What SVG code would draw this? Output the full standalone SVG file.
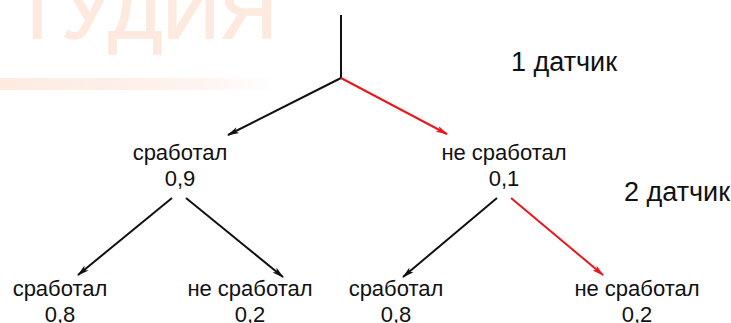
<svg xmlns="http://www.w3.org/2000/svg" width="731" height="323" viewBox="0 0 731 323">
<style>
text{font-family:"Liberation Sans",Arial,sans-serif;font-size:22px;fill:#111;text-anchor:middle}
.big{font-size:27px}
.wm{font-size:80px;fill:#fde9dd;text-anchor:start;stroke:#fde9dd;stroke-width:1.5}
.k{stroke:#111;stroke-width:2;fill:none}
.r{stroke:#e8181c;stroke-width:2;fill:none}
</style>
<defs>
<linearGradient id="fade" x1="0" y1="0" x2="1" y2="0"><stop offset="0" stop-color="#fdebe0"/><stop offset="0.7" stop-color="#fef3ee"/><stop offset="1" stop-color="#ffffff"/></linearGradient>
<marker id="ak" markerWidth="12" markerHeight="8" refX="11" refY="4" orient="auto" markerUnits="userSpaceOnUse"><path d="M0,0.8 L12,4 L0,7.2 L3,4 Z" fill="#111"/></marker>
<marker id="ar" markerWidth="12" markerHeight="8" refX="11" refY="4" orient="auto" markerUnits="userSpaceOnUse"><path d="M0,0.8 L12,4 L0,7.2 L3,4 Z" fill="#e8181c"/></marker>
</defs>
<g id="watermark">
<text class="wm" x="13" y="38" textLength="264" lengthAdjust="spacingAndGlyphs">ТУДИЯ</text>
<rect x="0" y="78" width="275" height="12" fill="url(#fade)"/>
</g>
<g id="connectors">
<line class="k" x1="341" y1="15" x2="341" y2="78"/>
<line class="k" x1="341" y1="78" x2="228" y2="135" marker-end="url(#ak)"/>
<line class="r" x1="341" y1="78" x2="447" y2="134" marker-end="url(#ar)"/>
<line class="k" x1="172" y1="198" x2="78" y2="275" marker-end="url(#ak)"/>
<line class="k" x1="186" y1="198" x2="283" y2="277" marker-end="url(#ak)"/>
<line class="k" x1="497" y1="198" x2="403" y2="277" marker-end="url(#ak)"/>
<line class="r" x1="511" y1="198" x2="603" y2="275" marker-end="url(#ar)"/>
</g>
<g id="label1"><text class="big" x="564" y="71">1 датчик</text></g>
<g id="label2"><text class="big" x="677" y="201">2 датчик</text></g>
<g id="n1"><text x="180" y="160">сработал</text><text x="180" y="186">0,9</text></g>
<g id="n2"><text x="504" y="160">не сработал</text><text x="504" y="186">0,1</text></g>
<g id="n3"><text x="60" y="296">сработал</text><text x="60" y="322">0,8</text></g>
<g id="n4"><text x="250" y="296">не сработал</text><text x="250" y="322">0,2</text></g>
<g id="n5"><text x="396" y="296">сработал</text><text x="396" y="322">0,8</text></g>
<g id="n6"><text x="637" y="296">не сработал</text><text x="637" y="322">0,2</text></g>
</svg>
